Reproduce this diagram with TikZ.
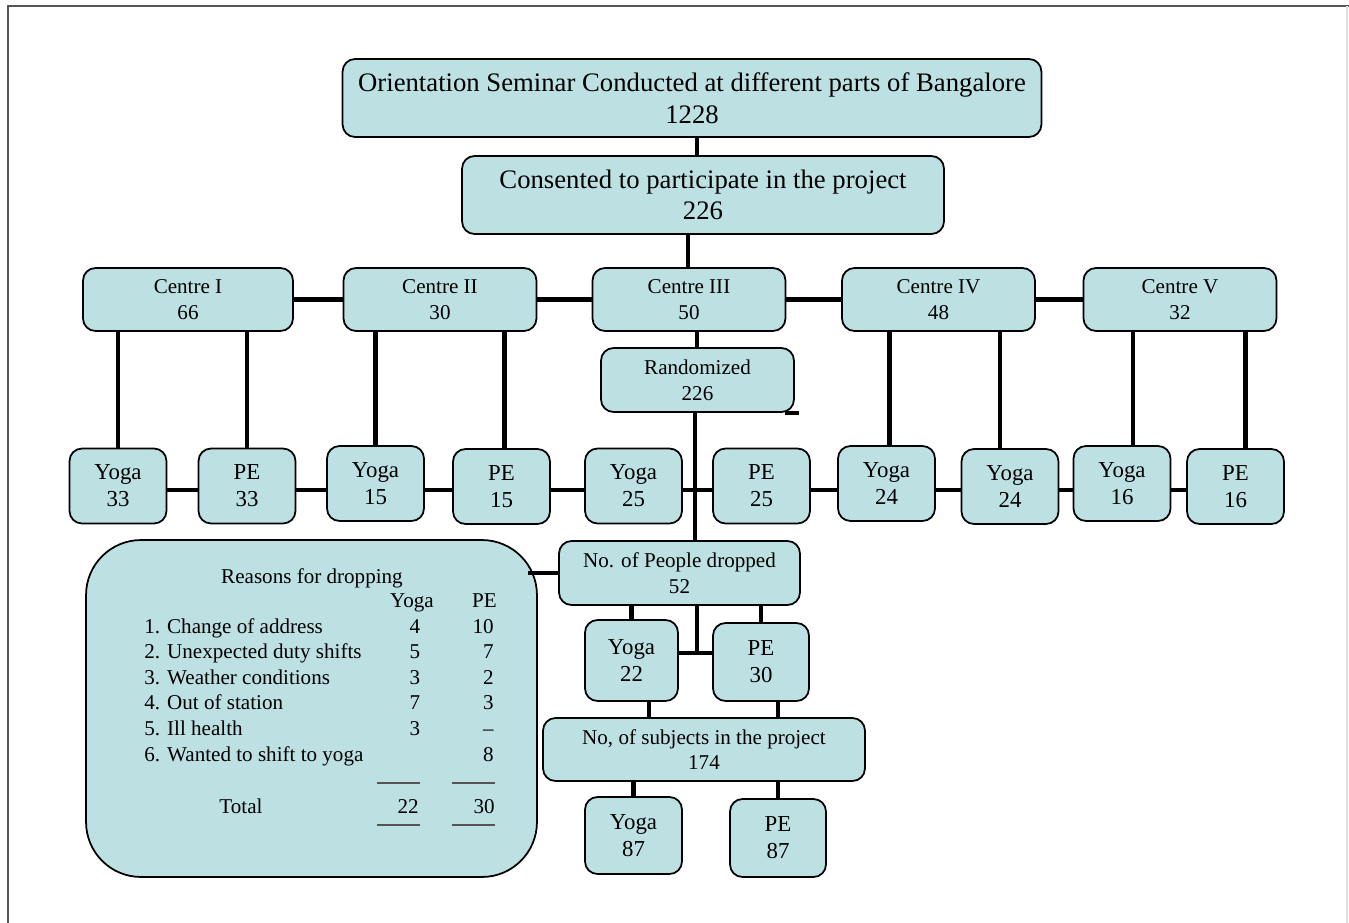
\documentclass[tikz,border=0pt]{standalone}
\usepackage{fontspec}
\setmainfont{Liberation Serif}
\usetikzlibrary{backgrounds}
\definecolor{boxfill}{HTML}{BDE0E3}
\definecolor{framegray}{HTML}{555555}
\tikzstyle{box} = [
    rectangle,
    align=center,
    rounded corners=0.25cm,
    fill=boxfill,
    draw=black,
    line width=1pt,
    inner sep=1pt,
    font=\fontsize{12}{14.6}\selectfont,
]
\tikzstyle{tbox} = [box, font=\fontsize{15.2}{18}\selectfont, minimum height=1.56cm]
\tikzstyle{cbox} = [box, minimum width=3.86cm, minimum height=1.26cm]
\tikzstyle{gbox} = [box, minimum width=1.94cm, minimum height=1.5cm, font=\fontsize{13}{15.5}\selectfont]
\tikzstyle{conn} = [line width=2.8pt]
\tikzstyle{rule} = [line width=1pt, draw=framegray]
\tikzstyle{txt} = [inner sep=0pt, font=\fontsize{12}{14.4}\selectfont]

\begin{document}
\begin{tikzpicture}[x=0.02cm, y=-0.02cm]
    \useasboundingbox (0,0) rectangle (1349,923);
    % page frame
    \draw [line width=1.2pt, framegray] (8,923) -- (8,6) -- (1349,6);
    \draw [line width=0.8pt, gray!25] (1347,6) -- (1347,923);

    \node (orient) [tbox, minimum width=13.98cm] at (692,98)
        {Orientation Seminar Conducted at different parts of Bangalore\\ 1228};
    \node (cons) [tbox, minimum width=9.64cm] at (703,195)
        {Consented to participate in the project\\ 226};

    \node (c1) [cbox, minimum width=4.2cm] at (188,299.5) {Centre I\\ 66};
    \node (c2) [cbox] at (440,299.5) {Centre II\\ 30};
    \node (c3) [cbox] at (689,299.5) {Centre III\\ 50};
    \node (c4) [cbox] at (938.5,299.5) {Centre IV\\ 48};
    \node (c5) [cbox] at (1180,299.5) {Centre V\\ 32};
    \node (rand) [cbox, minimum height=1.28cm] at (697.5,380) {Randomized\\ 226};

    \node (y33) [gbox] at (118,486) {Yoga\\ 33};
    \node (p33) [gbox] at (247,486) {PE\\ 33};
    \node (y15) [gbox] at (375.5,483.5) {Yoga\\ 15};
    \node (p15) [gbox] at (501.5,486.5) {PE\\ 15};
    \node (y25) [gbox] at (633.5,486) {Yoga\\ 25};
    \node (p25) [gbox] at (761.5,486) {PE\\ 25};
    \node (y24a) [gbox] at (886.5,483.5) {Yoga\\ 24};
    \node (y24b) [gbox] at (1010,486.5) {Yoga\\ 24};
    \node (y16) [gbox] at (1122,483.5) {Yoga\\ 16};
    \node (p16) [gbox] at (1235.5,486.5) {PE\\ 16};

    \node (drop) [box, minimum width=4.82cm, minimum height=1.28cm] at (679.5,573)
        {No. of People dropped\\ 52};
    \node (y22) [gbox, minimum width=1.86cm, minimum height=1.62cm] at (631.5,660.5) {Yoga\\ 22};
    \node (p30) [gbox, minimum width=1.92cm, minimum height=1.56cm] at (761,662) {PE\\ 30};
    \node (subj) [box, minimum width=6.44cm, minimum height=1.26cm] at (704,749.5)
        {No, of subjects in the project\\ 174};
    \node (y87) [gbox, minimum height=1.54cm] at (633.5,835.5) {Yoga\\ 87};
    \node (p87) [gbox, minimum width=1.92cm, minimum height=1.56cm] at (778,838) {PE\\ 87};

    % reasons table
    \node (why) [box, rounded corners=1.1cm, minimum width=9.02cm, minimum height=6.74cm]
        at (311.5,708.5) {};
    \node (whyhd) [txt, anchor=base] at (312,583) {Reasons for dropping};
    \node (hdy) [txt, anchor=base] at (412,607) {Yoga};
    \node (hdp) [txt, anchor=base east] at (497,607) {PE};
    \foreach \lab/\yg/\pe [count=\i] in {Change of address/4/10,
        Unexpected duty shifts/5/7, Weather conditions/3/2, Out of station/7/3,
        Ill health/3/--, Wanted to shift to yoga//8} {
        \node (lab\i) [txt, anchor=base west] at (144,{633+25.6*(\i-1)}) {\i. \lab};
        \node (yg\i) [txt, anchor=base] at (415,{633+25.6*(\i-1)}) {\yg};
        \node (pe\i) [txt, anchor=base east] at (494,{633+25.6*(\i-1)}) {\pe};
    }
    \draw [rule] (377,783) -- (420,783);
    \draw [rule] (452,783) -- (495,783);
    \node (tot) [txt, anchor=base] at (241,813) {Total};
    \node (toty) [txt, anchor=base east] at (419,813) {22};
    \node (totp) [txt, anchor=base east] at (495,813) {30};
    \draw [rule] (377,825) -- (420,825);
    \draw [rule] (452,825) -- (495,825);

    % connectors
    \coordinate (hrow) at (0,490);
    \coordinate (dmid) at (697,653);
    \begin{scope}[on background layer]
        \draw [conn] (y33 |- hrow) -- (p16 |- hrow);
        \draw [conn] ([xshift=-0.05cm]rand.south) -- ([xshift=-0.05cm]rand.south |- drop.north);
    \end{scope}
    \path [conn]
        ([xshift=0.1cm]orient.south) edge ([xshift=0.1cm]orient.south |- cons.north)
        ([xshift=-0.3cm]cons.south) edge ([xshift=-0.3cm]cons.south |- c3.north)
        (c1) edge (c2)
        (c2) edge (c3)
        (c3) edge (c4)
        (c4) edge (c5)
        ([xshift=0.16cm]c3.south) edge ([xshift=0.16cm]c3.south |- rand.north);
    \path [conn]
        (y33.north) edge (y33.north |- c1.south)
        (p33.north) edge (p33.north |- c1.south)
        (y15.north) edge (y15.north |- c2.south)
        ([xshift=0.06cm]p15.north) edge ([xshift=0.06cm]p15.north |- c2.south)
        ([xshift=0.06cm]y24a.north) edge ([xshift=0.06cm]y24a.north |- c4.south)
        ([xshift=-0.2cm]y24b.north) edge ([xshift=-0.2cm]y24b.north |- c4.south)
        ([xshift=0.22cm]y16.north) edge ([xshift=0.22cm]y16.north |- c5.south)
        ([xshift=0.2cm]p16.north) edge ([xshift=0.2cm]p16.north |- c5.south);
    \draw [line width=2pt] ([xshift=-0.2cm]rand.south east) -- ++(0.28cm,0);
    \path [conn]
        ([xshift=-0.2cm]drop.west -| why.east) edge (drop.west)
        (y22.north) edge (y22.north |- drop.south)
        (p30.north) edge (p30.north |- drop.south)
        (drop.south -| dmid) edge (dmid)
        (y22.east |- dmid) edge (p30.west |- dmid)
        ([xshift=0.35cm]y22.south) edge ([xshift=0.35cm]y22.south |- subj.north)
        ([xshift=0.34cm]p30.south) edge ([xshift=0.34cm]p30.south |- subj.north)
        (y87.north) edge (y87.north |- subj.south)
        (p87.north) edge (p87.north |- subj.south);
\end{tikzpicture}
\end{document}
